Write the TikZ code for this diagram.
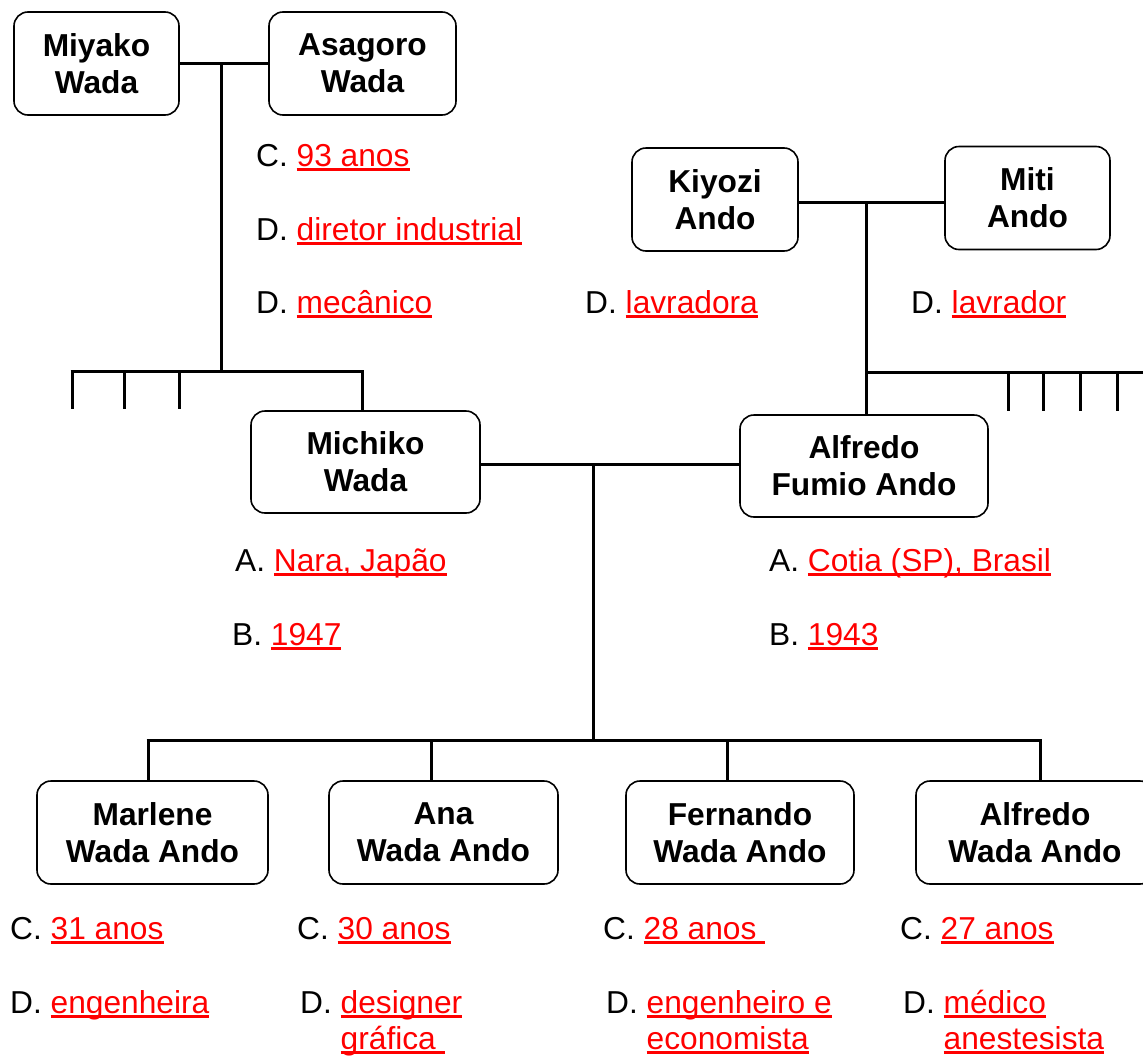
\documentclass[tikz,border=0pt]{standalone}
\usepackage{fontspec}
\setmainfont{Liberation Sans}
\usetikzlibrary{calc}
\newcommand\ulr[1]{\textcolor{red}{\setbox0\hbox{#1}\rlap{\rule[-4.6pt]{\wd0}{2.4pt}}\box0}}
\begin{document}
\begin{tikzpicture}[x=1pt,y=-1pt,
  person/.style={draw, line width=1.6pt, rounded corners=14pt, align=center,
    font=\bfseries\fontsize{31.7}{37}\selectfont, inner sep=0pt, minimum height=103pt},
  lab/.style={anchor=base west, inner sep=0pt, font=\fontsize{31.7}{37}\selectfont},
  conn/.style={line width=3pt}]
\useasboundingbox (0,0) rectangle (1143,1055);
\clip (0,0) rectangle (1143,1055);
\fill[white] (0,0) rectangle (1143,1055);

% people
\node[person, minimum width=165pt] (miyako) at (96.5,63.5) {Miyako\\Wada};
\node[person, minimum width=187pt] (asagoro) at (362.5,63.5) {Asagoro\\Wada};
\node[person, minimum width=166pt] (kiyozi) at (715,199.5) {Kiyozi\\Ando};
\node[person, minimum width=165pt] (miti) at (1027.5,198) {Miti\\Ando};
\node[person, minimum width=229pt, minimum height=102pt] (michiko) at (365.5,462) {Michiko\\Wada};
\node[person, minimum width=248pt, minimum height=102pt] (alfredo) at (864,466) {Alfredo\\Fumio Ando};
\node[person, minimum width=231pt] (marlene) at (152.5,832.5) {Marlene\\Wada Ando};
\node[person, minimum width=229pt] (ana) at (443.5,832.5) {Ana\\Wada Ando};
\node[person, minimum width=228pt] (fernando) at (740,832.5) {Fernando\\Wada Ando};
\node[person, minimum width=238pt] (alfredow) at (1035,832.5) {Alfredo\\Wada Ando};

% Wada parents
\coordinate (j1) at (221,63.5);
\coordinate (s1) at (221,371);
\coordinate (b1L) at (70.5,371);
\coordinate (b1R) at (363.5,371);
\draw[conn] (miyako.east) -- (asagoro.west);
\draw[conn] (j1) -- (s1);
\draw[conn] (b1L) -- (b1R);
\foreach \x/\n in {72/a,124/b,179/c} {
  \coordinate (t1\n) at (\x,409);
  \draw[conn] (t1\n |- b1L) -- (t1\n);
}
\coordinate (t1m) at (362,371);
\draw[conn] (t1m) -- (t1m |- michiko.north);

% Ando parents
\coordinate (j2) at (866,202);
\draw[conn] (kiyozi.east |- j2) -- (miti.west |- j2);
\draw[conn] (j2) -- (j2 |- alfredo.north);
\coordinate (b2L) at (866,372);
\coordinate (b2R) at (1150,372);
\draw[conn] (b2L) -- (b2R);
\foreach \x/\n in {1008/a,1043/b,1080/c,1117/d} {
  \coordinate (t2\n) at (\x,411);
  \draw[conn] (t2\n |- b2L) -- (t2\n);
}

% couple and children
\coordinate (j3) at (593,464);
\coordinate (s3) at (593,740);
\draw[conn] (michiko.east |- j3) -- (alfredo.west |- j3);
\draw[conn] (j3) -- (s3);
\coordinate (b3L) at (146.5,740);
\coordinate (b3R) at (1041.5,740);
\draw[conn] (b3L) -- (b3R);
\coordinate (k1) at (148,740);
\coordinate (k2) at (431,740);
\coordinate (k3) at (727,740);
\coordinate (k4) at (1040,740);
\draw[conn] (k1) -- (k1 |- marlene.north);
\draw[conn] (k2) -- (k2 |- ana.north);
\draw[conn] (k3) -- (k3 |- fernando.north);
\draw[conn] (k4) -- (k4 |- alfredow.north);

% labels
\node[lab] (l1) at (256,166) {C. \ulr{93 anos}};
\node[lab] (l2) at (256,240) {D. \ulr{diretor industrial}};
\node[lab] (l3) at (256,313) {D. \ulr{mecânico}};
\node[lab] (l4) at (585,313) {D. \ulr{lavradora}};
\node[lab] (l5) at (911,313) {D. \ulr{lavrador}};
\node[lab] (l6) at (235,571) {A. \ulr{Nara, Japão}};
\node[lab] (l7) at (232,645) {B. \ulr{1947}};
\node[lab] (l8) at (769,571) {A. \ulr{Cotia (SP), Brasil}};
\node[lab] (l9) at (769,645) {B. \ulr{1943}};
\node[lab] (c1) at (10,939) {C. \ulr{31 anos}};
\node[lab] (d1) at (10,1013) {D. \ulr{engenheira}};
\node[lab] (c2) at (297,939) {C. \ulr{30 anos}};
\node[lab] (d2) at (300,1013) {D. \ulr{designer}};
\node[lab] (d2b) at (300,1049) {\hphantom{D. }\ulr{gráfica\ }};
\node[lab] (c3) at (603,939) {C. \ulr{28 anos\ }};
\node[lab] (d3) at (606,1013) {D. \ulr{engenheiro e}};
\node[lab] (d3b) at (606,1049) {\hphantom{D. }\ulr{economista}};
\node[lab] (c4) at (900,939) {C. \ulr{27 anos}};
\node[lab] (d4) at (903,1013) {D. \ulr{médico}};
\node[lab] (d4b) at (903,1049) {\hphantom{D. }\ulr{anestesista}};
\end{tikzpicture}
\end{document}
